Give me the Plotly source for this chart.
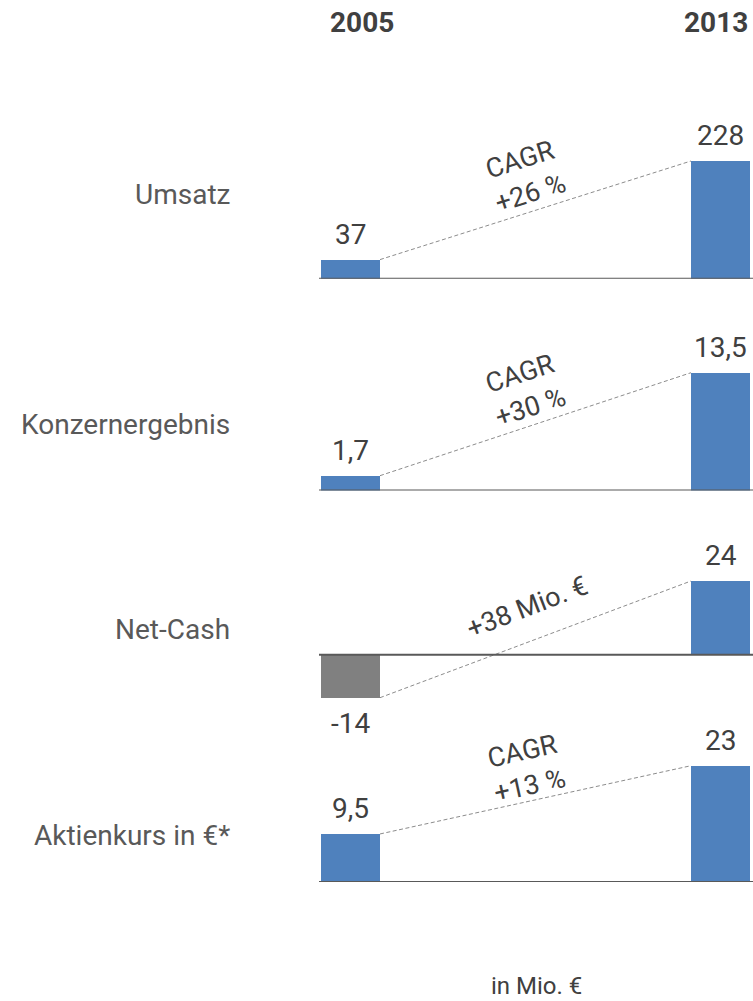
import plotly.graph_objects as go

# ---------------- data ----------------
years = ["2005", "2013"]
metrics = ["Umsatz", "Konzernergebnis", "Net-Cash", "Aktienkurs in €*"]
v2005 = [37, 1.7, -14, 9.5]
v2013 = [228, 13.5, 24, 23]
labels2005 = ["37", "1,7", "-14", "9,5"]
labels2013 = ["228", "13,5", "24", "23"]
growth = ["CAGR<br>+26 %", "CAGR<br>+30 %", "+38 Mio. €", "CAGR<br>+13 %"]
unit_note = "in Mio. €"

# ---------------- layout helpers (pixels) ----------------
W, H = 753, 1001
baseline_px = [278.7, 490.5, 654.7, 882.0]
top2013_px = [161.0, 372.7, 581.0, 765.7]
label_px_y = [194, 425, 629, 835]
text_angle = [-17.5, -18, -21, -12.5]
growth_shift = [(-11, 34), (-11, 34), (-8, 32), (-10, 31)]

X_LEFT_PX, X_RIGHT_PX = 319, 753
C0, C1 = 350.5, 720.5          # bar centres in px
unit = C1 - C0
bar_w = 59 / unit

BLUE = "#4F81BD"
GREY = "#808080"
TXT = "#404040"
FONT = "Roboto"


def py(px):
    return 1 - px / H


fig = go.Figure()
shapes = []
annotations = []

for i in range(4):
    ax = "" if i == 0 else str(i + 1)
    yname = "y" + ax
    scale = (baseline_px[i] - top2013_px[i]) / v2013[i]
    lo = min(0, v2005[i]) * 1.25
    hi = v2013[i] * 1.12
    dom_top = baseline_px[i] - hi * scale
    dom_bot = baseline_px[i] - lo * scale
    fig.update_layout(**{
        "yaxis" + ax: dict(domain=[py(dom_bot), py(dom_top)], range=[lo, hi],
                           visible=False, fixedrange=True, anchor="x")
    })
    colors = [BLUE if v >= 0 else GREY for v in (v2005[i], v2013[i])]
    fig.add_trace(go.Bar(x=[0, 1], y=[v2005[i], v2013[i]], width=bar_w,
                         marker=dict(color=colors, line=dict(width=0)),
                         xaxis="x", yaxis=yname, showlegend=False, hoverinfo="skip"))
    # dashed connector
    fig.add_trace(go.Scatter(x=[bar_w / 2, 1 - bar_w / 2], y=[v2005[i], v2013[i]],
                             mode="lines", line=dict(color="#8C8C8C", width=1, dash="4px,2.5px"),
                             xaxis="x", yaxis=yname, showlegend=False, hoverinfo="skip"))
    # baseline
    shapes.append(dict(type="line", xref="x domain", yref=yname, x0=0, x1=1, y0=0, y1=0,
                       line=dict(color="#595959", width=2)))
    # value labels
    for xv, val, lab in ((0, v2005[i], labels2005[i]), (1, v2013[i], labels2013[i])):
        annotations.append(dict(x=xv, y=val, xref="x", yref=yname, text=lab, showarrow=False,
                                xanchor="center", yanchor="middle",
                                yshift=25 if val >= 0 else -26,
                                font=dict(family=FONT, size=28, color=TXT)))
    # growth annotation
    annotations.append(dict(x=0.5, y=(v2005[i] + v2013[i]) / 2, xref="x", yref=yname,
                            text=growth[i], showarrow=False, textangle=text_angle[i],
                            xanchor="center", yanchor="middle",
                            xshift=growth_shift[i][0], yshift=growth_shift[i][1],
                            font=dict(family=FONT, size=27, color=TXT)))
    # metric label
    annotations.append(dict(x=232 / W, y=py(label_px_y[i]), xref="paper", yref="paper",
                            text=metrics[i], showarrow=False, xanchor="right", yanchor="middle",
                            font=dict(family=FONT, size=28, color="#595959")))

# year headers
for xc, yr in zip([361.5 / W, 716 / W], years):
    annotations.append(dict(x=xc, y=py(22), xref="paper", yref="paper", text="<b>" + yr + "</b>",
                            showarrow=False, xanchor="center", yanchor="middle",
                            font=dict(family=FONT, size=28, color=TXT)))

annotations.append(dict(x=536 / W, y=py(986), xref="paper", yref="paper", text=unit_note,
                        showarrow=False, xanchor="center", yanchor="middle",
                        font=dict(family=FONT, size=24, color=TXT)))

x_lo = (X_LEFT_PX - C0) / unit
x_hi = 1 + (X_RIGHT_PX - C1) / unit
fig.update_layout(
    width=W, height=H,
    margin=dict(l=0, r=0, t=0, b=0),
    paper_bgcolor="white", plot_bgcolor="white",
    xaxis=dict(domain=[X_LEFT_PX / W, 1], range=[x_lo, x_hi], visible=False, fixedrange=True),
    shapes=shapes, annotations=annotations,
    bargap=0,
)

fig.write_html(
    "out.html",
    config={"displayModeBar": False},
    post_script="document.body.style.margin='0';document.body.style.overflow='hidden';",
)
